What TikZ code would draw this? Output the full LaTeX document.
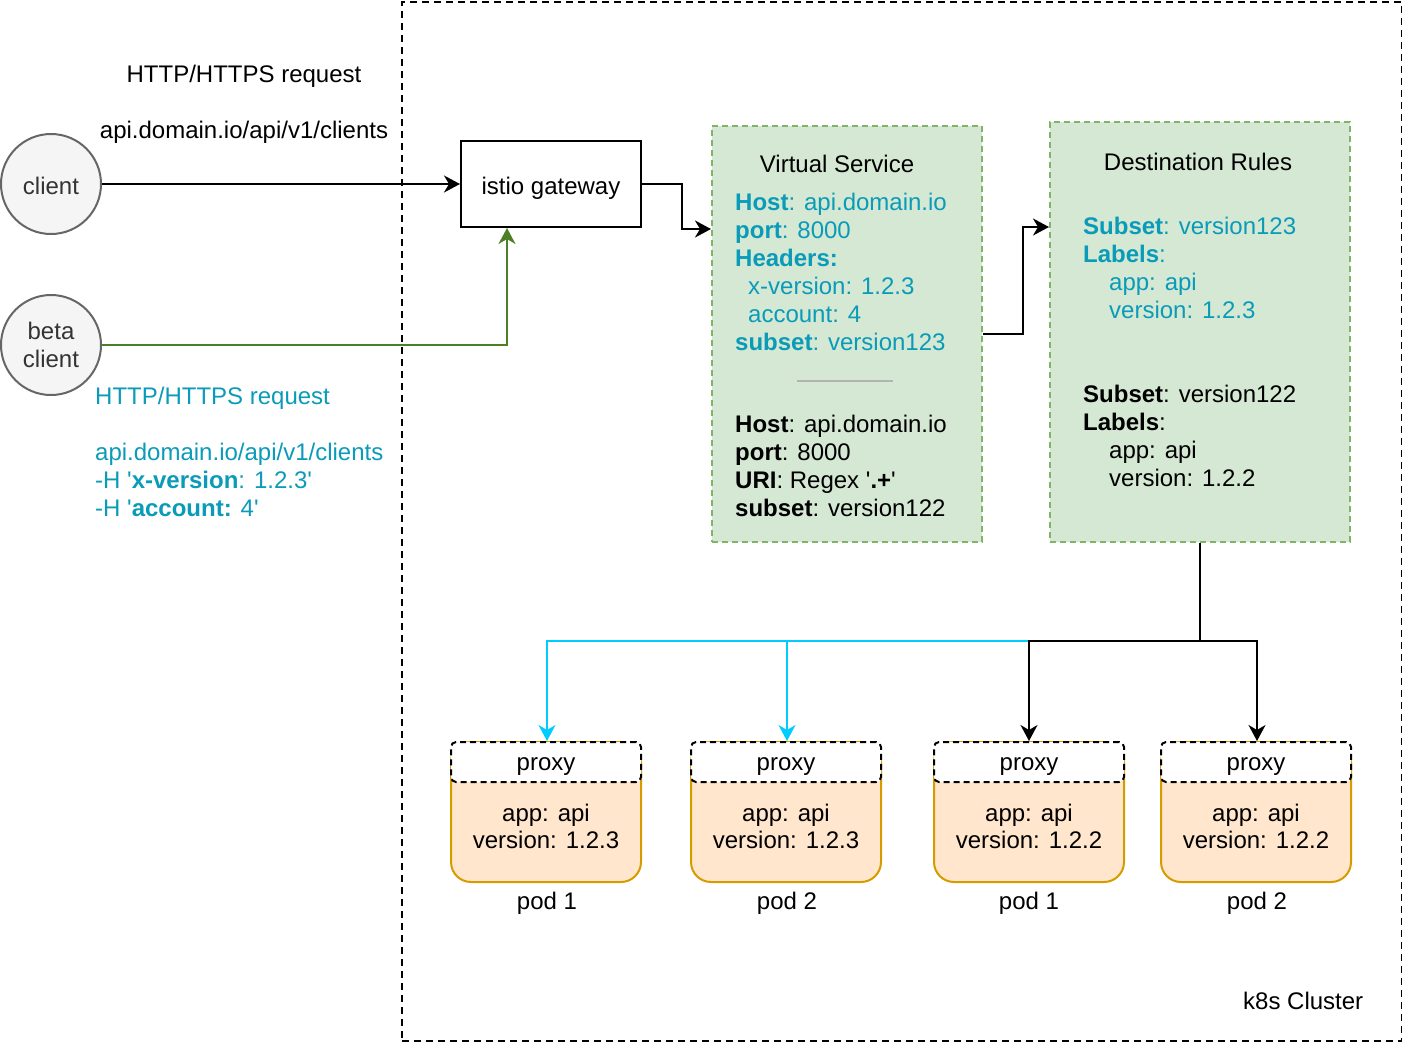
\documentclass[tikz,border=0pt]{standalone}
\usepackage{fontspec}
\setmainfont{Liberation Sans}
\usetikzlibrary{arrows.meta,calc}
\definecolor{cyantext}{HTML}{0A9BB8}
\definecolor{cyanarrow}{HTML}{00CCFF}
\definecolor{greenline}{HTML}{4D7F26}
\definecolor{greenfill}{HTML}{D5E8D4}
\definecolor{greenstroke}{HTML}{82B366}
\definecolor{podfill}{HTML}{FFE6CC}
\definecolor{podstroke}{HTML}{D79B00}
\definecolor{circfill}{HTML}{F5F5F5}
\definecolor{circstroke}{HTML}{666666}
\definecolor{circtext}{HTML}{333333}
\definecolor{sepgray}{HTML}{B3B3B3}
\newcommand{\fsz}{\fontsize{24}{28}\selectfont}
\tikzset{
  txt/.style={font=\fsz, inner sep=0pt, anchor=base west},
  txtc/.style={font=\fsz, inner sep=0pt, anchor=base},
  clientnode/.style={circle, draw=circstroke, fill=circfill, line width=2pt, minimum size=100pt, inner sep=0pt, font=\fsz, text=circtext, align=center},
  gatebox/.style={rectangle, draw=black, line width=2pt, minimum width=180pt, minimum height=86pt, inner sep=0pt, font=\fsz, text height=20pt, text depth=0pt},
  cfgbox/.style={rectangle, draw=greenstroke, fill=greenfill, line width=1.5pt, dash pattern=on 6pt off 4pt, inner sep=0pt, anchor=north west},
  clusterbox/.style={rectangle, draw=black, line width=2pt, dash pattern=on 7pt off 5pt, inner sep=0pt, anchor=north west},
  podbody/.style={rectangle, rounded corners=20pt, draw=podstroke, fill=podfill, line width=2pt, minimum width=190pt, minimum height=140pt, inner sep=0pt, anchor=north},
  proxybox/.style={rectangle, rounded corners=5pt, draw=black, fill=white, line width=2pt, dash pattern=on 6pt off 4pt, minimum width=190pt, minimum height=40pt, inner sep=0pt, anchor=north},
  arr/.style={draw=black, line width=2pt, -{Stealth[length=16pt,width=17pt,inset=5pt]}},
  greenarr/.style={draw=greenline, line width=2pt, -{Stealth[length=16pt,width=17pt,inset=5pt]}},
  cyanarr/.style={draw=cyanarrow, line width=2pt, -{Stealth[length=16pt,width=17pt,inset=5pt]}},
  plainline/.style={draw=black, line width=2pt},
}
\begin{document}
\begin{tikzpicture}[x=1pt,y=-1pt]
\useasboundingbox (0,0) rectangle (1402,1042);

% cluster frame
\node[clusterbox, minimum width=1000pt, minimum height=1039pt] (cluster) at (401,1) {};
\node[txt] (k8s) at (1243,1009) {k8s Cluster};

% request text (top)
\node[txtc] (req1) at (244,82) {HTTP/HTTPS request};
\node[txtc] (req2) at (244,138) {api.domain.io/api/v1/clients};

% clients
\node[clientnode, text height=20pt, text depth=0pt] (client) at (51,184) {client};
\node[clientnode] (beta) at (51,345) {beta\\client};

% beta request text
\node[txt, text=cyantext] (breq1) at (95,404) {HTTP/HTTPS request};
\node[txt, text=cyantext] (breq2) at (95,460) {api.domain.io/api/v1/clients};
\node[txt, text=cyantext] (breq3) at (95,488) {-H \textquotesingle\textbf{x-version}: 1.2.3\textquotesingle};
\node[txt, text=cyantext] (breq4) at (95,516) {-H \textquotesingle\textbf{account:} 4\textquotesingle};

% gateway
\node[gatebox] (gw) at (551,184) {istio gateway};

% virtual service
\node[cfgbox, minimum width=270pt, minimum height=416pt] (vs) at (711,125) {};
\node[txtc] (vstitle) at (837,172) {Virtual Service};
\node[txt, text=cyantext] (vs1) at (735,210) {\textbf{Host}: api.domain.io};
\node[txt, text=cyantext] (vs2) at (735,238) {\textbf{port}: 8000};
\node[txt, text=cyantext] (vs3) at (735,266) {\textbf{Headers:}};
\node[txt, text=cyantext] (vs4) at (748,294) {x-version: 1.2.3};
\node[txt, text=cyantext] (vs5) at (748,322) {account: 4};
\node[txt, text=cyantext] (vs6) at (735,350) {\textbf{subset}: version123};
\coordinate (sepL) at (797,381);
\coordinate (sepR) at (893,381);
\draw[draw=sepgray, line width=2pt] (sepL) -- (sepR);
\node[txt] (vs7) at (735,432) {\textbf{Host}: api.domain.io};
\node[txt] (vs8) at (735,460) {\textbf{port}: 8000};
\node[txt] (vs9) at (735,488) {\textbf{URI}: Regex \textquotesingle\textbf{.+}\textquotesingle};
\node[txt] (vs10) at (735,516) {\textbf{subset}: version122};

% destination rules
\node[cfgbox, minimum width=300pt, minimum height=420pt] (dr) at (1049,121) {};
\node[txtc] (drtitle) at (1198,170) {Destination Rules};
\node[txt, text=cyantext] (dr1) at (1083,234) {\textbf{Subset}: version123};
\node[txt, text=cyantext] (dr2) at (1083,262) {\textbf{Labels}:};
\node[txt, text=cyantext] (dr3) at (1109,290) {app: api};
\node[txt, text=cyantext] (dr4) at (1109,318) {version: 1.2.3};
\node[txt] (dr5) at (1083,402) {\textbf{Subset}: version122};
\node[txt] (dr6) at (1083,430) {\textbf{Labels}:};
\node[txt] (dr7) at (1109,458) {app: api};
\node[txt] (dr8) at (1109,486) {version: 1.2.2};

% pods
\foreach \i/\cx/\ver in {1/546/1.2.3, 2/786/1.2.3, 3/1029/1.2.2, 4/1256/1.2.2}{
  \node[podbody] (pod\i) at (\cx,741) {};
  \node[proxybox] (proxy\i) at (\cx,741) {};
  \node[txtc] (proxyt\i) at (\cx,770) {proxy};
  \node[txtc] (app\i) at (\cx,821) {app: api};
  \node[txtc] (ver\i) at (\cx,848) {version: \ver};
}
\node[txtc] (podl1) at (547,909) {pod 1};
\node[txtc] (podl2) at (787,909) {pod 2};
\node[txtc] (podl3) at (1029,909) {pod 1};
\node[txtc] (podl4) at (1257,909) {pod 2};

% connectors
\draw[arr] (client.east) -- (gw.west);
\draw[greenarr] (beta.east) -| ($(gw.south)+(-44,0)$);
\draw[arr] (gw.east) -- ++(40,0) |- ($(vs.north west)+(0,104)$);
\draw[arr] (vs.east) -- ++(40,0) |- ($(dr.north west)+(0,106)$);

\coordinate (jn) at (dr.south |- 0,641);
\coordinate (j3) at (1029,641);
\coordinate (j2) at (787,641);
\draw[plainline] (dr.south) -- (jn);
\draw[cyanarr] (j3) -| ($(proxy1.north)+(1,0)$);
\draw[cyanarr] (j2) -- ($(proxy2.north)+(1,0)$);
\draw[arr] (jn) -| (proxy3.north);
\draw[arr] (jn) -| ($(proxy4.north)+(1,0)$);
\end{tikzpicture}
\end{document}
